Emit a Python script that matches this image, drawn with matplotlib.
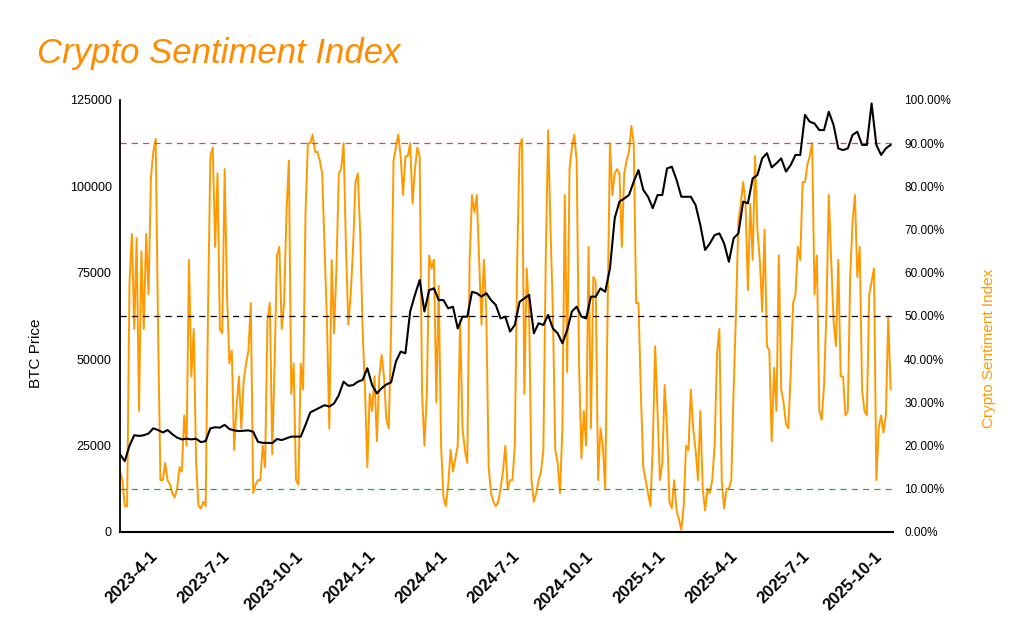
"""
Crypto Sentiment Index vs BTC price
Dual axis line chart, values read off the reference picture.
"""

import pandas as pd
import matplotlib
matplotlib.use("Agg")
import matplotlib.pyplot as plt
from matplotlib.ticker import FuncFormatter
from matplotlib.transforms import ScaledTranslation

plt.rcParams['font.family'] = ['Liberation Sans', 'DejaVu Sans']

# BTC price in thousands of USD, one reading every 6 days
btc_start = '2023-03-02'
btc_price_k = [
    22.5, 20.5, 25.0, 28.0, 27.8, 28.0, 28.5, 30.0, 29.5, 28.8,
    29.5, 28.3, 27.3, 26.8, 27.0, 26.8, 27.0, 26.0, 26.3, 30.0,
    30.3, 30.2, 31.0, 29.8, 29.4, 29.2, 29.3, 29.4, 29.0, 26.1,
    25.8, 25.8, 25.7, 26.9, 26.6, 27.1, 27.6, 27.6, 27.6, 31.0,
    34.6, 35.3, 36.0, 36.7, 36.3, 37.2, 39.6, 43.5, 42.3, 42.5,
    43.5, 44.0, 47.4, 42.5, 40.1, 41.6, 42.7, 43.3, 49.3, 52.2,
    51.7, 63.8, 68.6, 72.9, 63.8, 70.0, 70.5, 67.1, 67.1, 64.7,
    65.2, 58.9, 62.3, 62.3, 69.5, 69.1, 68.1, 69.1, 67.1, 65.7,
    61.8, 62.3, 58.0, 59.9, 66.6, 67.6, 68.6, 57.5, 60.4, 59.9,
    62.8, 58.9, 57.5, 54.6, 58.4, 63.8, 65.2, 62.3, 61.8, 68.1,
    68.1, 70.5, 69.5, 76.3, 90.8, 95.6, 96.5, 97.5, 101.4, 104.7,
    99.0, 97.0, 93.7, 97.5, 97.5, 105.2, 105.7, 101.9, 97.0, 97.0,
    97.0, 94.6, 88.8, 81.6, 83.5, 85.9, 86.4, 83.5, 78.2, 85.0,
    86.4, 95.6, 95.1, 102.3, 103.3, 108.1, 109.6, 105.5, 106.7, 108.1,
    104.3, 106.2, 109.1, 109.1, 120.7, 118.7, 118.2, 116.3, 116.3, 121.6,
    117.8, 111.0, 110.5, 111.0, 114.9, 115.8, 112.0, 112.0, 124.0, 112.0,
    109.1, 111.0, 112.0,
]

# sentiment index in percent, one reading every 3 days
sent_start = '2023-03-02'
sentiment_pct = [
    14, 12, 6, 6, 58, 69, 47, 68, 28, 65,
    47, 69, 55, 82, 88, 91, 47, 12, 12, 16,
    12, 11, 9, 8, 10, 15, 14, 27, 20, 63,
    36, 47, 16, 6, 5.5, 7, 6, 51, 87, 89,
    66, 83, 47, 46, 84, 55, 39, 42, 19, 29,
    36, 24, 35, 39, 42, 53, 9, 11, 12, 12,
    20, 15, 49, 53, 18, 39, 64, 66, 47, 53,
    74, 86, 32, 39, 12, 11, 39, 33, 74, 90,
    90, 92, 88, 88, 86, 83, 66, 49, 24, 63,
    46, 61, 83, 84, 90, 66, 48, 55, 66, 81,
    83, 69, 47, 33, 15, 32, 28, 36, 21, 36,
    41, 36, 26, 24, 47, 86, 89, 92, 87, 78,
    87, 87, 90, 76, 84, 89, 87, 32, 20, 32,
    64, 61, 63, 30, 57, 20, 8, 6, 11, 19,
    14, 17, 20, 49, 24, 19, 16, 63, 78, 74,
    78, 63, 48, 63, 51, 15, 9, 7, 6, 7,
    10, 14, 20, 10, 12, 12, 20, 63, 89, 91,
    32, 61, 51, 12, 7, 9, 12, 14, 19, 63,
    93, 70, 51, 19, 16, 9, 24, 78, 37, 84,
    89, 92, 86, 39, 17, 28, 20, 66, 24, 59,
    58, 12, 24, 20, 10, 51, 90, 78, 83, 84,
    83, 66, 83, 86, 88, 94, 90, 53, 53, 32,
    15, 12, 9, 6, 20, 43, 28, 12, 16, 34,
    24, 7, 5.5, 12, 5, 3, 0.5, 6, 20, 19,
    33, 24, 19, 12, 28, 10, 5, 10, 9, 12,
    20, 41, 47, 12, 5.5, 10, 10, 12, 33, 51,
    72, 76, 81, 76, 56, 76, 63, 87, 70, 63,
    51, 70, 43, 42, 21, 38, 28, 64, 33, 30,
    25, 24, 37, 53, 55, 66, 63, 81, 81, 85,
    87, 90, 55, 64, 28, 26, 34, 51, 78, 63,
    49, 43, 63, 36, 36, 27, 28, 59, 72, 78,
    59, 66, 33, 28, 27, 55, 58, 61, 12, 24,
    27, 23, 27, 50, 33,
]

# reference levels on the sentiment axis
levels = [90, 50, 10]
level_colors = ['#e8473f', '#000000', '#2aa84a']

quarter_ticks = pd.date_range('2023-04-01', '2025-10-01', freq='QS')
btc_ticks = [0, 25000, 50000, 75000, 100000, 125000]
sent_ticks = list(range(0, 101, 10))

orange = '#ff9900'

btc_dates = pd.date_range(btc_start, periods=len(btc_price_k), freq='6D')
sent_dates = pd.date_range(sent_start, periods=len(sentiment_pct), freq='3D')
btc_price = [v * 1000 for v in btc_price_k]

fig = plt.figure(figsize=(10.24, 6.35), dpi=100)
ax = fig.add_axes([120 / 1024, 1 - 532 / 635, 773 / 1024, 432 / 635])
ax2 = ax.twinx()

# sentiment on the right axis (drawn below the price line)
ax2.plot(sent_dates, sentiment_pct, color=orange, linewidth=1.4)
for lv, c in zip(levels, level_colors):
    ax2.axhline(lv, color=c, linewidth=0.9, linestyle=(0, (5, 4)))
ax2.set_ylim(0, 100)
ax2.set_yticks(sent_ticks)
ax2.yaxis.set_major_formatter(FuncFormatter(lambda v, p: f"{v:.2f}%"))
ax2.tick_params(axis='y', length=0, pad=8, labelsize=8.5)
ax2.set_ylabel('Crypto Sentiment Index', color=orange, fontsize=11)
ax2.yaxis.set_label_coords(1.115, 0.426)
for s in ax2.spines.values():
    s.set_visible(False)

# price on the left axis, kept on top
ax.set_zorder(ax2.get_zorder() + 1)
ax.patch.set_visible(False)
ax.plot(btc_dates, btc_price, color='black', linewidth=1.5)
ax.set_ylim(0, 125000)
ax.set_yticks(btc_ticks)
ax.tick_params(axis='y', length=0, pad=6, labelsize=9)
ax.set_ylabel('BTC Price', fontsize=11)
ax.yaxis.set_label_coords(-0.0996, 0.414)

ax.set_xlim(pd.Timestamp('2023-03-02'), pd.Timestamp('2025-11-01'))
ax.set_xticks(quarter_ticks)
ax.set_xticklabels([f"{d.year}-{d.month}-1" for d in quarter_ticks],
                   rotation=45, ha='right', va='top', rotation_mode='anchor',
                   fontsize=12, fontweight='bold')
ax.tick_params(axis='x', length=0, pad=12)
shift = ScaledTranslation(6 / 100, 0, fig.dpi_scale_trans)
for lab in ax.get_xticklabels():
    lab.set_transform(lab.get_transform() + shift)

for side in ['top', 'right']:
    ax.spines[side].set_visible(False)
ax.spines['left'].set_linewidth(1.3)
ax.spines['bottom'].set_linewidth(1.5)

fig.text(37 / 1024, 1 - 63 / 635, 'Crypto Sentiment Index', fontsize=25,
         style='italic', color='#ff8c00', va='baseline')

fig.savefig('out.png', dpi=100)
